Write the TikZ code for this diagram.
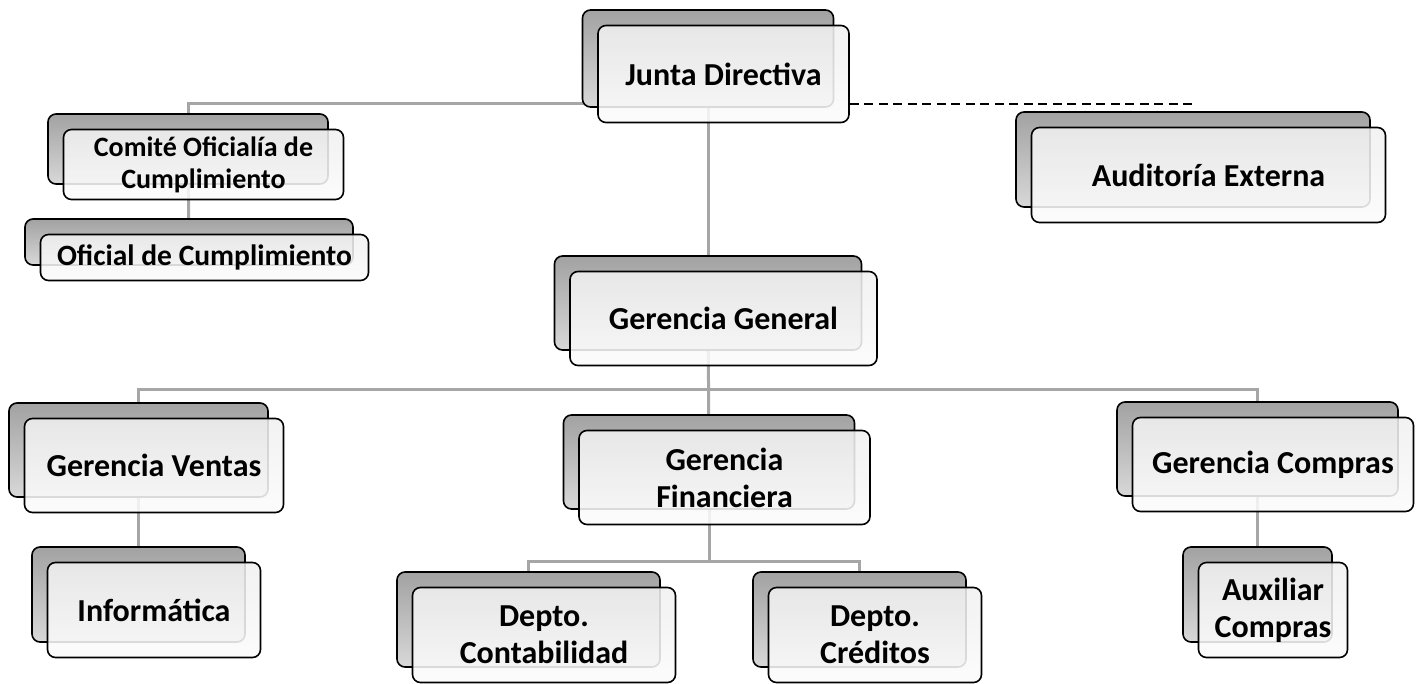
\documentclass[tikz,border=0pt]{standalone}
\usepackage{fontspec}
\setmainfont{Carlito}
\usetikzlibrary{backgrounds}
\definecolor{connc}{HTML}{A6A6A6}
\definecolor{backtop}{HTML}{A2A2A2}
\definecolor{backbot}{HTML}{D8D8D8}
\definecolor{fronttop}{HTML}{F0F0F0}
\definecolor{frontbot}{HTML}{FBFBFB}
\tikzset{
  backbox/.style={rectangle, rounded corners=8pt, draw=black, line width=1.6pt,
    top color=backtop, bottom color=backbot, inner sep=0pt},
  frontbox/.style={rectangle, rounded corners=8pt, draw=black, line width=1.6pt,
    top color=fronttop, bottom color=frontbot, fill opacity=0.88, text opacity=1,
    align=center, inner sep=2pt,
    font=\bfseries\fontsize{32}{37}\selectfont},
  smalltext/.style={font=\bfseries\fontsize{28}{32}\selectfont},
  midtext/.style={font=\bfseries\fontsize{29.5}{34}\selectfont},
  conn/.style={draw=connc, line width=3pt},
  dashline/.style={draw=black, line width=2pt, dash pattern=on 9pt off 5.5pt}
}
\newcommand\orgbox[7][]{%
  \node[backbox, minimum width=#5pt, minimum height=#6pt] (#2B) at (#3,#4) {};
  \node[frontbox, #1, minimum width=#5pt, minimum height=#6pt] (#2) at (#3+15.5,#4+15.5) {#7};
}
\begin{document}
\begin{tikzpicture}[x=1pt,y=-1pt]
\useasboundingbox (0,0) rectangle (1424,683);
\orgbox{jd}{708}{58.5}{251}{97}{Junta Directiva}
\orgbox{au}{1193}{159.5}{354}{95}{Auditoría Externa}
\orgbox[smalltext]{co}{188}{149}{280}{70}{Comité Oficialía de\\Cumplimiento}
\orgbox[midtext]{of}{189}{242}{328}{46}{Oficial de Cumplimiento}
\orgbox{gg}{708}{303}{307}{94}{Gerencia General}
\orgbox{gv}{138.5}{450}{259}{94}{Gerencia Ventas}
\orgbox{gf}{709}{462}{291}{94}{Gerencia\\Financiera}
\orgbox{gc}{1257.5}{449}{281}{94}{Gerencia Compras}
\orgbox{in}{138.5}{594.5}{213}{95}{Informática}
\orgbox{dc}{528.5}{619.5}{263}{95}{Depto.\\Contabilidad}
\orgbox{cr}{859.5}{619.5}{213}{95}{Depto.\\Créditos}
\orgbox{ax}{1257.5}{594.5}{149}{95}{Auxiliar\\Compras}
\coordinate (jbus) at (708,103);
\coordinate (auend) at (1194,104);
\coordinate (gbus) at (708,389);
\coordinate (fbus) at (709,561);
\begin{scope}[on background layer]
  \draw[conn] (jdB.center) -- (ggB.center);
  \draw[conn] (coB.center) |- (jbus);
  \draw[conn] (coB.center) -- (ofB.center);
  \draw[conn] (gvB.center) |- (gbus) -| (gcB.center);
  \draw[conn] (ggB.center) -- (gfB.center);
  \draw[conn] (dcB.center) |- (fbus) -| (crB.center);
  \draw[conn] (gfB.center) -- (fbus);
  \draw[conn] (gvB.center) -- (inB.center);
  \draw[conn] (gcB.center) -- (axB.center);
\end{scope}
\draw[dashline] (jd.east |- auend) -- (auend);
\end{tikzpicture}
\end{document}
